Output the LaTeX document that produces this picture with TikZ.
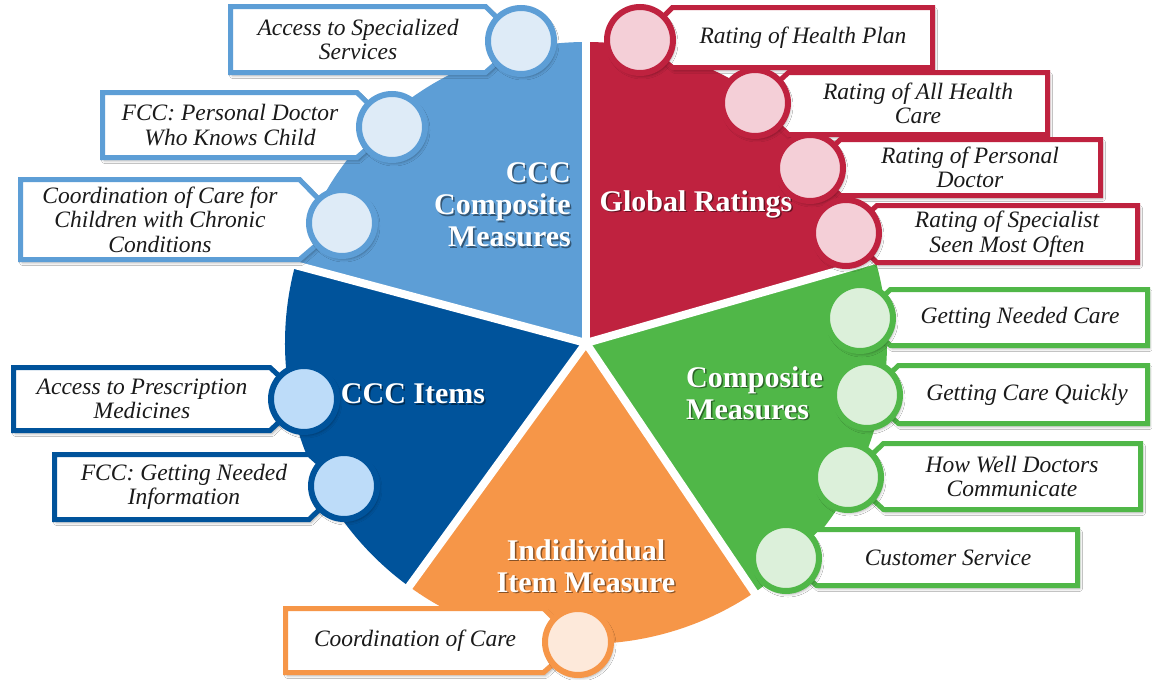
\documentclass[tikz,border=0pt]{standalone}
\usepackage{fontspec}
\setmainfont{Liberation Serif}
\usetikzlibrary{shadows.blur}

\definecolor{lb}{HTML}{5D9ED6}
\definecolor{lbpale}{HTML}{DEEBF7}
\definecolor{db}{HTML}{00539B}
\definecolor{dbpale}{HTML}{BDDCF9}
\definecolor{rd}{HTML}{BF223F}
\definecolor{rdpale}{HTML}{F4CFD7}
\definecolor{gr}{HTML}{50B748}
\definecolor{grpale}{HTML}{DCF0DA}
\definecolor{orng}{HTML}{F69648}
\definecolor{orngpale}{HTML}{FDE9DA}
\definecolor{txt}{HTML}{1A1A1A}

\tikzset{
  softshadow/.style={blur shadow={shadow xshift=2pt, shadow yshift=-3pt,
      shadow blur radius=3pt, shadow opacity=35}},
  callbox/.style={line width=5pt, fill=white, line join=miter, softshadow},
  callcirc/.style={circle, line width=6pt, minimum size=66pt, inner sep=0pt, softshadow},
  calltext/.style={font=\fontsize{23.5}{24.5}\selectfont\itshape, align=center,
      text=txt, inner sep=0pt},
  seclabel/.style={font=\fontsize{30}{32}\selectfont\bfseries, text=white, inner sep=0pt},
  seclabelsh/.style={seclabel, text=black, opacity=0.45, xshift=1.5pt, yshift=-1.5pt},
}

% callout with the box on the left and the circle on its right end
% #1 name, #2 left, #3 top, #4 bottom, #5 circle x, #6 circle y, #7 colour, #8 text x, #9 text
\newcommand\leftcall[9]{%
  \path[callbox, draw=#7] (#2+2.5,#3+2.5) -- ({#5-(#4-#3)/2},#3+2.5) -- (#5,#6)
     -- ({#5-(#4-#3)/2},#4-2.5) -- (#2+2.5,#4-2.5) -- cycle;
  \node[calltext] (#1) at (#8,{(#3+#4)/2}) {#9};
  \node[callcirc, draw=#7, fill=#7pale] (#1-dot) at (#5,#6) {};
}
% callout with the circle on the left and the box on its right
% #2 is the right edge of the box
\newcommand\rightcall[9]{%
  \path[callbox, draw=#7] (#2-2.5,#3+2.5) -- ({#5+(#4-#3)/2},#3+2.5) -- (#5,#6)
     -- ({#5+(#4-#3)/2},#4-2.5) -- (#2-2.5,#4-2.5) -- cycle;
  \node[calltext] (#1) at (#8,{(#3+#4)/2}) {#9};
  \node[callcirc, draw=#7, fill=#7pale] (#1-dot) at (#5,#6) {};
}

\begin{document}
\begin{tikzpicture}[x=1pt,y=-1pt]
\useasboundingbox[fill=white] (0,0) rectangle (1152,680);
\coordinate (ctr) at (586,343);

% five pie sectors (angles are mirrored because the y axis points down)
\fill[rd]   (ctr) -- ++(-16:301)  arc[start angle=-16,  end angle=-90,  radius=301] -- cycle;
\fill[lb]   (ctr) -- ++(-90:301)  arc[start angle=-90,  end angle=-165, radius=301] -- cycle;
\fill[db]   (ctr) -- ++(-165:301) arc[start angle=-165, end angle=-234, radius=301] -- cycle;
\fill[orng] (ctr) -- ++(126:301)  arc[start angle=126,  end angle=56,   radius=301] -- cycle;
\fill[gr]   (ctr) -- ++(56:301)   arc[start angle=56,   end angle=-16,  radius=301] -- cycle;

% white gaps between the sectors
\foreach \a in {-90,-16,56,126,-165}
  \draw[white, line width=8pt] (ctr) -- ++(\a:310);

% sector titles
\node[seclabelsh, align=right, anchor=east] (ccm-sh) at (571,205) {CCC\\Composite\\Measures};
\node[seclabel, align=right, anchor=east] (ccm) at (571,205) {CCC\\Composite\\Measures};
\node[seclabelsh] (glob-sh) at (696,204) {Global Ratings};
\node[seclabel] (glob) at (696,204) {Global Ratings};
\node[seclabelsh] (items-sh) at (413,394) {CCC Items};
\node[seclabel] (items) at (413,394) {CCC Items};
\node[seclabelsh, align=left, anchor=west] (comp-sh) at (686,393) {Composite\\Measures};
\node[seclabel, align=left, anchor=west] (comp) at (686,393) {Composite\\Measures};
\node[seclabelsh, align=center] (indiv-sh) at (586,566) {Indidividual\\Item Measure};
\node[seclabel, align=center] (indiv) at (586,566) {Indidividual\\Item Measure};

% CCC composite measures
\leftcall{spec}{228}{4}{75}{521}{41}{lb}{358}{Access to Specialized\\Services}
\leftcall{pdoc}{100}{90}{160}{392}{127}{lb}{230}{FCC: Personal Doctor\\Who Knows Child}
\leftcall{chron}{18}{177}{262}{342}{223}{lb}{160}{Coordination of Care for\\Children with Chronic\\Conditions}

% CCC items
\leftcall{presc}{11}{365}{433}{304}{399}{db}{142}{Access to Prescription\\Medicines}
\leftcall{info}{52}{452}{522}{344}{486}{db}{184}{FCC: Getting Needed\\Information}

% individual item measure
\leftcall{coord}{283}{606}{675}{578}{642}{orng}{415}{Coordination of Care}

% global ratings
\rightcall{plan}{935}{5}{70}{640}{40}{rd}{803}{Rating of Health Plan}
\rightcall{allhc}{1050}{70}{137}{755}{103}{rd}{918}{Rating of All Health\\Care}
\rightcall{perdoc}{1103}{137}{198}{810}{168}{rd}{970}{Rating of Personal\\Doctor}
\rightcall{specl}{1140}{203}{265}{846}{233}{rd}{1007}{Rating of Specialist\\Seen Most Often}

% composite measures
\rightcall{needed}{1150}{287}{348}{860}{318}{gr}{1020}{Getting Needed Care}
\rightcall{quick}{1150}{363}{426}{867}{395}{gr}{1027}{Getting Care Quickly}
\rightcall{comm}{1143}{441}{512}{848}{477}{gr}{1012}{How Well Doctors\\Communicate}
\rightcall{cserv}{1080}{527}{588}{786}{558}{gr}{948}{Customer Service}
\end{tikzpicture}
\end{document}
